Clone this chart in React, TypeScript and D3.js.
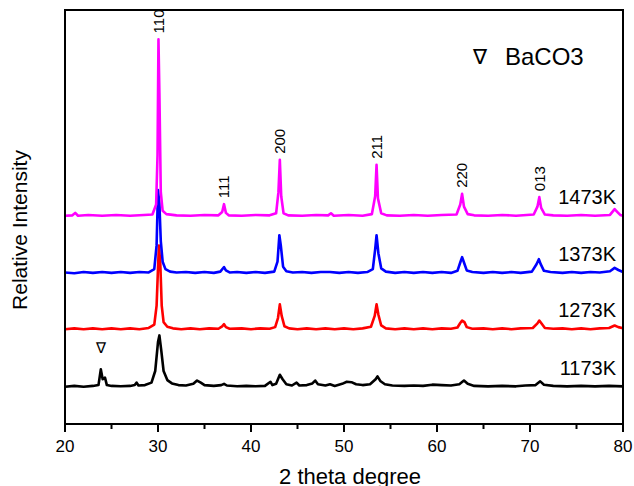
import React from 'react'
import * as d3 from 'd3'

// 2θ / intensity pairs (a.u., above each trace's own baseline)
const s1173: [number, number][] = [
  [20,2],[21,4],[22,2],[23,4],[23.6,6],[23.85,44],[24.05,20],[24.3,24],[24.5,6],[25,4],[26,3],[27,4],[27.5,6],[27.7,12],[27.9,5],
  [28.6,6],[29.3,12],[29.7,40],[30.0,110],[30.15,126],[30.35,90],[30.6,40],[31,18],[31.5,10],[32.2,6],[33,5],[33.8,9],[34.2,17],
  [34.6,12],[35,6],[36,4],[36.8,6],[37.1,9],[37.4,5],[38.5,3],[39.5,4],[40.5,3],[41.5,4],[42.1,14],[42.3,6],[42.7,9],[43.1,31],
  [43.4,20],[43.8,8],[44.4,5],[44.9,12],[45.2,5],[46,6],[46.6,10],[46.9,17],[47.2,8],[48,5],[48.5,8],[49,4],[49.8,9],[50.3,14],
  [50.8,13],[51.3,8],[52,6],[52.8,8],[53.4,20],[53.6,27],[53.9,16],[54.4,8],[55.2,5],[56.5,4],[57.5,5],[58.5,4],[59.5,7],[60.5,6],
  [61.5,5],[62.4,8],[62.9,17],[63.3,9],[64,4],[65.5,3],[67,4],[68.5,3],[69.5,5],[70.6,6],[71.1,15],[71.5,7],[72.5,4],[74,3],
  [75.5,4],[77,3],[78.5,4],[80,3],
]
const s1273: [number, number][] = [
  [20,3],[21,5],[22,3],[23,5],[24,3],[25,5],[26,3],[27,5],[28,3],[29,6],[29.6,14],[29.85,60],[30.0,150],[30.1,205],[30.25,160],
  [30.4,60],[30.6,20],[31,9],[31.6,5],[32.5,3],[33.5,5],[34.5,3],[35.5,5],[36.5,4],[36.9,10],[37.1,15],[37.3,8],[37.7,4],[39,5],
  [40,3],[41,5],[42,4],[42.6,8],[42.9,30],[43.1,63],[43.3,35],[43.6,10],[44.1,5],[45,3],[46,5],[47,3],[48,5],[49,3],[50,5],
  [51,3],[52,5],[52.9,9],[53.3,35],[53.5,63],[53.7,38],[54,12],[54.5,5],[55.5,3],[56.5,5],[57.5,3],[58.5,5],[59.5,3],[60.5,5],
  [61.5,4],[62.2,7],[62.5,18],[62.7,24],[62.95,20],[63.2,8],[63.8,4],[65,5],[66,3],[67,5],[68,3],[69,5],[70.3,6],[70.8,17],
  [71.0,24],[71.2,18],[71.6,6],[72.5,4],[73.5,5],[74.5,3],[75.5,5],[76.5,3],[77.5,5],[78.5,6],[79.1,12],[79.5,8],[80,5],
]
const s1373: [number, number][] = [
  [20,4],[21,2],[22,5],[23,3],[24,5],[25,3],[26,5],[27,3],[28,5],[29,4],[29.6,12],[29.85,70],[30.0,203],[30.15,170],[30.3,80],
  [30.5,30],[30.8,12],[31.3,6],[32,4],[33,5],[34,3],[35,5],[36,3],[36.7,6],[36.95,13],[37.1,17],[37.3,9],[37.7,4],[38.5,5],
  [39.5,3],[40.5,5],[41.5,3],[42.5,6],[42.85,30],[43.05,94],[43.2,70],[43.45,18],[43.8,7],[44.5,4],[45.5,5],[46.5,3],[47.5,5],
  [48.5,5],[49.5,3],[50.5,5],[51.5,3],[52.5,5],[53.1,12],[53.35,60],[53.5,94],[53.7,50],[54,14],[54.5,6],[55.5,3],[56.5,5],
  [57.5,3],[58.5,5],[59.5,3],[60.5,5],[61.5,3],[62.2,8],[62.5,28],[62.7,41],[62.9,28],[63.2,9],[63.8,5],[65,3],[66,5],[67,3],
  [68,5],[69,3],[70.2,6],[70.7,24],[70.95,36],[71.15,24],[71.5,8],[72.2,5],[73.5,3],[74.5,5],[75.5,3],[76.5,5],[77.5,4],
  [78.6,7],[79.1,15],[79.5,10],[80,5],
]
const s1473: [number, number][] = [
  [20,3],[20.8,4],[21.1,10],[21.4,3],[22.5,5],[24,3],[25.5,5],[27,3],[28.5,5],[29.4,6],[29.8,30],[29.95,150],[30.05,429],
  [30.15,300],[30.3,60],[30.5,15],[30.9,7],[32,4],[33.5,3],[35,5],[36.5,4],[36.9,12],[37.1,31],[37.3,10],[37.6,4],[39,3],
  [40.5,5],[42,4],[42.7,9],[42.95,60],[43.1,138],[43.25,50],[43.5,9],[44,4],[45.5,3],[47,5],[48.3,4],[48.6,9],[48.9,3],
  [50.5,5],[52,3],[53,7],[53.35,50],[53.5,126],[53.65,45],[54,9],[54.6,4],[56,3],[57.5,5],[59,3],[60.5,5],[62.1,6],[62.5,30],
  [62.7,56],[62.9,25],[63.3,7],[64,4],[65.5,3],[67,5],[68.5,3],[70.4,6],[70.8,25],[71,48],[71.2,22],[71.6,6],[72.5,4],[74,3],
  [75.5,5],[77,3],[78.6,5],[79.1,19],[79.4,12],[79.7,5],[80,3],
]

const seriesNames = ['1173K', '1273K', '1373K', '1473K']
const seriesData = [s1173, s1273, s1373, s1473]
const seriesOffsets = [88, 226, 362, 500]
const seriesColors = ['#000000', '#ff0000', '#0000ff', '#ff00ff']

// Miller indices of the main peaks, labelled above the 1473K pattern
const hklLabels = ['110', '111', '200', '211', '220', '013']
const hklPos = [30.05, 37.1, 43.1, 53.5, 62.7, 71.0]
const hklHeight = [429, 31, 138, 126, 56, 48]

const xTicks = [20, 30, 40, 50, 60, 70, 80]
const xMinor = [25, 35, 45, 55, 65, 75]
const baco3Peak = 23.9

const W = 634
const H = 486
const margin = { top: 10, right: 10, bottom: 62, left: 65 }

export default function App() {
  const x = d3.scaleLinear().domain([20, 80]).range([margin.left, W - margin.right - 1])
  const y = d3.scaleLinear().domain([0, 1000]).range([H - margin.bottom, margin.top])
  const font = 'Arial, "Liberation Sans", sans-serif'
  const x0 = margin.left, x1 = W - margin.right - 1
  const y0 = margin.top, y1 = H - margin.bottom

  return (
    <svg width={W} height={H} style={{ position: 'fixed', left: 0, top: 0, background: '#fff' }} fontFamily={font}>
      <rect x={0} y={0} width={W} height={H} fill="#fff" />
      {seriesData.map((d, i) => {
        const line = d3.line<[number, number]>()
          .x(p => x(p[0]))
          .y(p => y(p[1] + seriesOffsets[i]))
        return <path key={seriesNames[i]} d={line(d) || ''} fill="none" stroke={seriesColors[i]} strokeWidth={2.6} strokeLinejoin="round" />
      })}

      {/* frame */}
      <rect x={x0} y={y0} width={x1 - x0} height={y1 - y0} fill="none" stroke="#000" strokeWidth={2} />
      {xTicks.map(t => (
        <g key={t}>
          <line x1={x(t)} x2={x(t)} y1={y1} y2={y1 + 8} stroke="#000" strokeWidth={2} />
          <text x={x(t)} y={452} fontSize={17} textAnchor="middle">{t}</text>
        </g>
      ))}
      {xMinor.map(t => (
        <line key={t} x1={x(t)} x2={x(t)} y1={y1} y2={y1 + 5} stroke="#000" strokeWidth={2} />
      ))}

      <text x={(x0 + x1) / 2 + 6} y={484} fontSize={22} textAnchor="middle">2 theta degree</text>
      <text transform={`translate(27,${(y0 + y1) / 2 + 13}) rotate(-90)`} fontSize={21} textAnchor="middle">Relative Intensity</text>

      {hklLabels.map((h, i) => {
        const px = x(hklPos[i])
        const py = y(hklHeight[i] + seriesOffsets[3]) - 6
        return (
          <text key={h} transform={`translate(${px},${py}) rotate(-90)`} dy="0.35em" fontSize={15}>{h}</text>
        )
      })}

      {seriesNames.map((n, i) => (
        <text key={n} x={616} y={y(seriesOffsets[i]) - 13} fontSize={20} textAnchor="end">{n}</text>
      ))}

      <text x={x(baco3Peak)} y={353} fontSize={15} fontWeight={300} textAnchor="middle">∇</text>
      <text x={480} y={64} fontSize={21} textAnchor="middle">∇</text>
      <text x={505} y={65} fontSize={24}>BaCO3</text>
    </svg>
  )
}
